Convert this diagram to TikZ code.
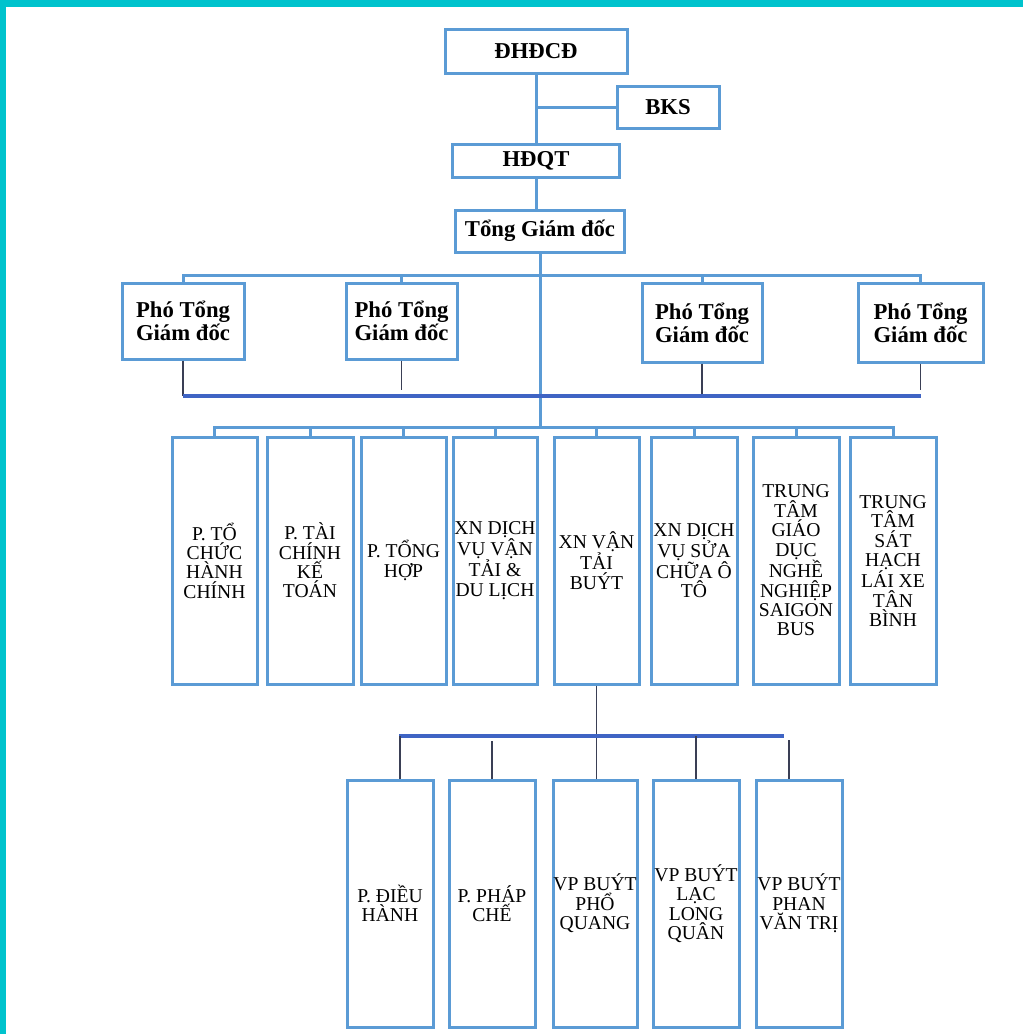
\documentclass[tikz,border=0pt]{standalone}
\usepackage{fontspec}
\setmainfont{Liberation Serif}
\definecolor{frameteal}{HTML}{00C3CD}
\definecolor{boxblue}{HTML}{5B9BD5}
\definecolor{darkbusblue}{HTML}{3F64C4}
\definecolor{thinlinecol}{HTML}{3A3F55}
\tikzset{
  orgbox/.style={draw=boxblue, line width=3pt, fill=white, inner sep=0pt, align=center, anchor=center},
  topbox/.style={orgbox, font=\bfseries\fontsize{22.7}{23}\selectfont},
  deptbox/.style={orgbox, minimum height=247pt, font=\fontsize{19.6}{19.4}\selectfont},
  bus/.style={draw=boxblue, line width=3pt},
  darkbus/.style={draw=darkbusblue, line width=3.5pt},
  thinconn/.style={draw=thinlinecol, line width=1.2pt},
}
\begin{document}
\begin{tikzpicture}[x=1pt,y=-1pt]
\useasboundingbox (0,0) rectangle (1023,1034);
\fill[white] (0,0) rectangle (1023,1034);
\fill[frameteal] (0,0) rectangle (1023,7);
\fill[frameteal] (0,0) rectangle (6,1034);

% coordinates for buses
\coordinate (ptop) at (540,275);
\coordinate (pbot) at (540,396);
\coordinate (dbus) at (540,427);
\coordinate (bL) at (399,736);
\coordinate (bR) at (784,736);
\coordinate (c1) at (400,736);
\coordinate (c5) at (789,740);

% top chain
\node[topbox, minimum width=182pt, minimum height=44pt] (dhdcd) at (536,51) {ĐHĐCĐ};
\node[topbox, minimum width=102pt, minimum height=42pt] (bks) at (668,107) {BKS};
\node[topbox, minimum width=167pt, minimum height=33pt] (hdqt) at (536,160.5) {HĐQT};
\node[topbox, minimum width=169pt, minimum height=42pt] (tgd) at (540,231) {Tổng Giám đốc};

% deputies
\node[topbox, minimum width=122pt, minimum height=76pt] (p1) at (183,321) {Phó Tổng\\Giám đốc};
\node[topbox, minimum width=111pt, minimum height=76pt] (p2) at (401.5,321) {Phó Tổng\\Giám đốc};
\node[topbox, minimum width=120pt, minimum height=79pt] (p3) at (702,322.5) {Phó Tổng\\Giám đốc};
\node[topbox, minimum width=125pt, minimum height=79pt] (p4) at (920.5,322.5) {Phó Tổng\\Giám đốc};

% departments
\node[deptbox, minimum width=85pt] (d1) at (214.5,560.5) {P. TỔ\\CHỨC\\HÀNH\\CHÍNH};
\node[deptbox, minimum width=86pt] (d2) at (310,560.5) {P. TÀI\\CHÍNH\\KẾ\\TOÁN};
\node[deptbox, minimum width=85pt] (d3) at (403.5,560.5) {P. TỔNG\\HỢP};
\node[deptbox, minimum width=84pt] (d4) at (495,560.5) {XN DỊCH\\VỤ VẬN\\TẢI \&\\DU LỊCH};
\node[deptbox, minimum width=85pt] (d5) at (596.5,560.5) {XN VẬN\\TẢI\\BUÝT};
\node[deptbox, minimum width=86pt] (d6) at (694,560.5) {XN DỊCH\\VỤ SỬA\\CHỮA Ô\\TÔ};
\node[deptbox, minimum width=86pt] (d7) at (796,560.5) {TRUNG\\TÂM\\GIÁO\\DỤC\\NGHỀ\\NGHIỆP\\SAIGON\\BUS};
\node[deptbox, minimum width=86pt] (d8) at (893,561) {TRUNG\\TÂM\\SÁT\\HẠCH\\LÁI XE\\TÂN\\BÌNH};

% bus units
\node[deptbox, minimum width=86pt] (b1) at (390,903.5) {P. ĐIỀU\\HÀNH};
\node[deptbox, minimum width=86pt] (b2) at (492,903.5) {P. PHÁP\\CHẾ};
\node[deptbox, minimum width=84pt] (b3) at (595,903.5) {VP BUÝT\\PHỔ\\QUANG};
\node[deptbox, minimum width=86pt] (b4) at (696,903.5) {VP BUÝT\\LẠC\\LONG\\QUÂN};
\node[deptbox, minimum width=86pt] (b5) at (799,903.5) {VP BUÝT\\PHAN\\VĂN TRỊ};

% connectors: top chain
\draw[bus] (dhdcd.south) -- (dhdcd.south |- hdqt.north);
\draw[bus] (dhdcd.south |- bks.west) -- (bks.west);
\draw[bus] (hdqt.south) -- (hdqt.south |- tgd.north);
\draw[bus] (tgd.south) -- (tgd.south |- dbus);

% deputies top bus
\draw[bus] (p1.north) -- (p1.north |- ptop) -- (p4.north |- ptop) -- (p4.north);
\draw[bus] (p2.north) -- (p2.north |- ptop);
\draw[bus] (p3.north) -- (p3.north |- ptop);

% deputies bottom bus
\draw[thinconn] (p1.south) -- (p1.south |- pbot);
\draw[thinconn, shorten >=6pt] (p2.south) -- (p2.south |- pbot);
\draw[thinconn] (p3.south) -- (p3.south |- pbot);
\draw[thinconn, shorten >=6pt] (p4.south) -- (p4.south |- pbot);
\draw[darkbus] (p1.south |- pbot) -- (p4.south |- pbot);

% departments bus
\draw[bus] (d1.north) -- (d1.north |- dbus) -- (d8.north |- dbus) -- (d8.north);
\foreach \n in {d2,d3,d4,d5,d6,d7} \draw[bus] (\n.north) -- (\n.north |- dbus);

% bus-unit tree
\draw[thinconn] (d5.south) -- (d5.south |- b3.north);
\draw[darkbus] (bL) -- (bR);
\draw[thinconn] (c1) -- (c1 |- b1.north);
\draw[thinconn] (b2.north) -- ++(0,-38);
\draw[thinconn] (b4.north) -- (b4.north |- bL);
\draw[thinconn] (c5) -- (c5 |- b5.north);
\end{tikzpicture}
\end{document}
